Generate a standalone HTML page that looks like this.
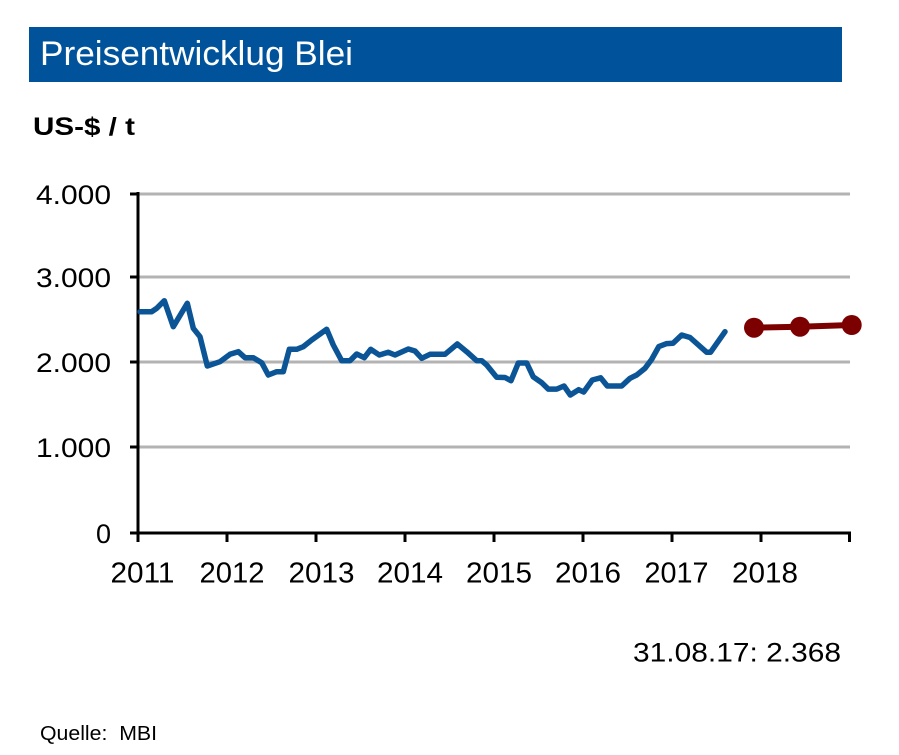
<!DOCTYPE html>
<html>
<head>
<meta charset="utf-8">
<style>
html,body{margin:0;padding:0;background:#fff;}
svg{display:block;}
text{font-family:"Liberation Sans",Arial,sans-serif;}
</style>
</head>
<body>
<svg width="899" height="755" viewBox="0 0 899 755" xmlns="http://www.w3.org/2000/svg">
  <rect x="0" y="0" width="899" height="755" fill="#ffffff"/>
  <!-- title bar -->
  <rect x="29" y="27" width="813" height="55" fill="#00539b"/>
  <text x="40" y="65" font-size="34" fill="#ffffff" textLength="313" lengthAdjust="spacingAndGlyphs">Preisentwicklug Blei</text>
  <!-- unit -->
  <text x="33" y="135" font-size="25" font-weight="bold" fill="#000" textLength="102" lengthAdjust="spacingAndGlyphs">US-$ / t</text>

  <!-- gridlines -->
  <g stroke="#b3b3b3" stroke-width="3">
    <line x1="138" y1="194" x2="850" y2="194"/>
    <line x1="138" y1="277" x2="850" y2="277"/>
    <line x1="138" y1="362" x2="850" y2="362"/>
    <line x1="138" y1="447" x2="850" y2="447"/>
  </g>

  <!-- axes -->
  <g stroke="#000" stroke-width="3">
    <line x1="138" y1="192" x2="138" y2="542"/>
    <line x1="137" y1="533" x2="851" y2="533"/>
    <line x1="130" y1="194" x2="138" y2="194"/>
    <line x1="130" y1="277" x2="138" y2="277"/>
    <line x1="130" y1="362" x2="138" y2="362"/>
    <line x1="130" y1="447" x2="138" y2="447"/>
    <line x1="130" y1="533" x2="138" y2="533"/>
    <line x1="227" y1="533" x2="227" y2="542"/>
    <line x1="316" y1="533" x2="316" y2="542"/>
    <line x1="405" y1="533" x2="405" y2="542"/>
    <line x1="494" y1="533" x2="494" y2="542"/>
    <line x1="583" y1="533" x2="583" y2="542"/>
    <line x1="672" y1="533" x2="672" y2="542"/>
    <line x1="761" y1="533" x2="761" y2="542"/>
    <line x1="849.5" y1="533" x2="849.5" y2="542"/>
  </g>

  <!-- y labels -->
  <g font-size="27" fill="#000" text-anchor="end">
    <text x="111" y="204" textLength="75" lengthAdjust="spacingAndGlyphs">4.000</text>
    <text x="111" y="287" textLength="75" lengthAdjust="spacingAndGlyphs">3.000</text>
    <text x="111" y="372" textLength="75" lengthAdjust="spacingAndGlyphs">2.000</text>
    <text x="111" y="457" textLength="75" lengthAdjust="spacingAndGlyphs">1.000</text>
    <text x="111" y="543">0</text>
  </g>

  <!-- x labels -->
  <g font-size="29" fill="#000" text-anchor="middle">
    <text x="142.5" y="582.5" textLength="64" lengthAdjust="spacingAndGlyphs">2011</text>
    <text x="232" y="582.5" textLength="65" lengthAdjust="spacingAndGlyphs">2012</text>
    <text x="321.5" y="582.5" textLength="66" lengthAdjust="spacingAndGlyphs">2013</text>
    <text x="410" y="582.5" textLength="66" lengthAdjust="spacingAndGlyphs">2014</text>
    <text x="499" y="582.5" textLength="66" lengthAdjust="spacingAndGlyphs">2015</text>
    <text x="588" y="582.5" textLength="66" lengthAdjust="spacingAndGlyphs">2016</text>
    <text x="676.5" y="582.5" textLength="64" lengthAdjust="spacingAndGlyphs">2017</text>
    <text x="765" y="582.5" textLength="66" lengthAdjust="spacingAndGlyphs">2018</text>
  </g>

  <!-- blue price line -->
  <polyline fill="none" stroke="#0b5596" stroke-width="5.5" stroke-linejoin="round" stroke-linecap="round"
    points="140,311.7 151.7,311.7 156.7,308.3 164.3,300.7 173.3,326.7 187.3,303.3 193.3,328.3 200,336.7 207.3,366 220,361.7 230,354.3 238.3,351.7 245,357.7 253.3,357.7 261.7,362.7 268.3,375 276.7,371.7 283.3,371.7 289.3,349.3 296.7,349.3 303.3,346.7 311.7,340 326.7,329.3 333.3,345 341.7,360.7 350,360.7 356.7,354 364.3,357.7 370.7,349.3 379.3,355 388.3,352.3 395,355 408.3,349 415,351 421.7,358.3 430,354.3 445,354.3 457.3,344 466.7,351.7 476.7,360.7 481.7,360.7 486.7,365 496.7,377.3 505,377.5 511,380.7 518.3,363 526.7,363 533.3,376.9 541.7,382.7 548.3,389.1 556.7,389.1 564,386 570.3,395 578.7,389.7 583.7,392 592.3,380 600.7,377.8 607.3,386 621.7,386 630,378.3 636.7,375 645,368.3 651.5,359.6 658.8,346.6 666.7,343.6 673,343.3 681.7,335 690,337.5 706.7,352.3 710.5,352.3 725,331.7"/>

  <!-- red forecast -->
  <polyline fill="none" stroke="#7d0000" stroke-width="6" points="754,327.7 800,326.7 851.7,325"/>
  <circle cx="754" cy="327.7" r="10" fill="#7d0000"/>
  <circle cx="800" cy="326.7" r="10" fill="#7d0000"/>
  <circle cx="851.7" cy="325" r="10" fill="#7d0000"/>

  <!-- last value -->
  <text x="633" y="661.7" font-size="27" fill="#000" textLength="208" lengthAdjust="spacingAndGlyphs">31.08.17: 2.368</text>

  <!-- source -->
  <text x="40" y="740" font-size="20" fill="#000" textLength="117" lengthAdjust="spacingAndGlyphs" xml:space="preserve">Quelle:  MBI</text>
</svg>
</body>
</html>
